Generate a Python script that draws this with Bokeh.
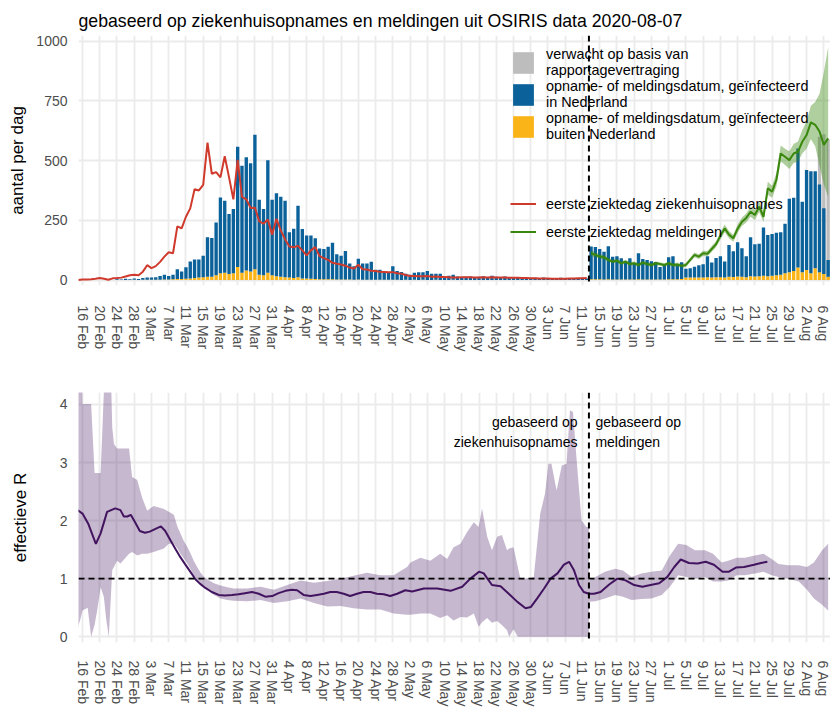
from bokeh.plotting import figure
from bokeh.models import Range1d, FixedTicker, Span, Legend, LegendItem
from bokeh.layouts import column
from bokeh.core.properties import value
from bokeh.embed import file_html
from bokeh.resources import INLINE

FONT = "Liberation Sans"
BLUE = "#0b6199"
YELLOW = "#fbb417"
GREY = "#bdbdbd"
RED = "#cf3a2c"
GREEN = "#39870c"
PURPLE = "#42145f"
GRID = "#ebebeb"

# x = days after 16 Feb 2020
tick_days = list(range(0, 173, 4))
tick_labels = ["16 Feb", "20 Feb", "24 Feb", "28 Feb", "3 Mar", "7 Mar", "11 Mar", "15 Mar",
               "19 Mar", "23 Mar", "27 Mar", "31 Mar", "4 Apr", "8 Apr", "12 Apr", "16 Apr",
               "20 Apr", "24 Apr", "28 Apr", "2 May", "6 May", "10 May", "14 May", "18 May",
               "22 May", "26 May", "30 May", "3 Jun", "7 Jun", "11 Jun", "15 Jun", "19 Jun",
               "23 Jun", "27 Jun", "1 Jul", "5 Jul", "9 Jul", "13 Jul", "17 Jul", "21 Jul",
               "25 Jul", "29 Jul", "2 Aug", "6 Aug"]
switch_day = 117.5  # between 12 Jun and 13 Jun

# ---- hospital admissions (24 Feb .. 12 Jun) ----
hosp_days = list(range(8, 118))
hosp_total = [3, 2, 5, 3, 6, 4, 8, 11, 10, 12,
              17, 22, 17, 22, 45, 36, 53, 78, 86, 86,
              102, 179, 176, 241, 346, 332, 276, 297, 558, 479,
              514, 489, 608, 336, 297, 502, 336, 363, 349, 332,
              200, 215, 311, 214, 186, 186, 175, 132, 130, 139,
              156, 108, 102, 122, 69, 58, 89, 69, 69, 76,
              43, 43, 33, 33, 58, 38, 34, 26, 22, 30,
              32, 32, 38, 26, 26, 26, 12, 18, 22, 15,
              12, 14, 15, 13, 14, 16, 13, 18, 14, 12,
              15, 11, 10, 12, 9, 10, 8, 9, 8, 10,
              7, 8, 7, 9, 6, 7, 8, 6, 7, 6]
hosp_abroad = [0, 0, 0, 0, 1, 0, 1, 1, 1, 1,
               1, 2, 2, 3, 4, 4, 5, 6, 8, 10,
               12, 14, 14, 20, 28, 30, 25, 28, 55, 30,
               40, 36, 45, 22, 20, 30, 20, 16, 14, 12,
               10, 8, 12, 6, 6, 5, 4, 3, 3, 3,
               3, 2, 2, 2, 2, 1, 2, 1, 1, 1,
               1, 1, 1, 1, 1, 1, 0, 1, 0, 1,
               0, 1, 0, 0, 1, 0, 0, 0, 1, 0,
               0, 0, 0, 0, 0, 0, 0, 0, 0, 0,
               0, 0, 0, 0, 0, 0, 0, 0, 0, 0,
               0, 0, 0, 0, 0, 0, 0, 0, 0, 0]

# first day of illness, hospital admissions (15 Feb .. 12 Jun)
red_days = list(range(-1, 118))
red_vals = [0, 2, 2, 3, 5, 8, 5, 1, 7, 8,
            10, 15, 20, 22, 20, 35, 62, 50, 58, 76,
            98, 116, 112, 225, 216, 265, 300, 380, 375, 398,
            575, 445, 452, 430, 518, 430, 338, 503, 348, 338,
            302, 303, 246, 236, 253, 190, 256, 208, 170, 140,
            137, 143, 124, 103, 124, 138, 100, 92, 84, 72,
            68, 65, 60, 52, 48, 64, 45, 44, 39, 38,
            35, 34, 32, 33, 28, 26, 21, 17, 17, 16,
            16, 17, 14, 15, 13, 13, 12, 11, 11, 12,
            12, 12, 11, 11, 12, 11, 12, 11, 10, 10,
            9, 9, 9, 8, 8, 7, 7, 6, 6, 6,
            5, 5, 5, 5, 6, 6, 7, 7, 8]

# ---- notifications (13 Jun .. 7 Aug) ----
notif_days = list(range(118, 174))
notif_total = [140, 138, 130, 118, 141, 97, 99, 91, 77, 91,
               68, 112, 88, 84, 79, 75, 55, 63, 95, 99,
               62, 74, 47, 49, 56, 62, 66, 100, 73, 92,
               100, 78, 147, 120, 158, 133, 100, 179, 150, 152,
               220, 188, 193, 198, 200, 236, 340, 345, 551, 328,
               461, 456, 456, 400, 300, 84]
notif_abroad = [3, 3, 3, 2, 3, 2, 2, 2, 2, 2,
                2, 3, 2, 2, 2, 2, 2, 2, 3, 3,
                3, 4, 10, 10, 10, 11, 10, 12, 10, 12,
                12, 10, 14, 13, 15, 14, 12, 16, 15, 16,
                18, 16, 18, 20, 22, 28, 32, 38, 52, 32,
                42, 28, 49, 32, 25, 14]
expected_days = [171, 172, 173]
expected_top = [600, 610, 590]

green_days = list(range(118, 174))
green_vals = [112, 105, 98, 95, 84, 77, 81, 70, 77, 67,
              70, 63, 73, 67, 63, 70, 67, 63, 70, 63,
              65, 59, 63, 84, 105, 98, 112, 110, 130, 150,
              185, 216, 190, 175, 215, 244, 260, 286, 272, 307,
              265, 384, 370, 420, 530, 516, 502, 530, 537, 579,
              607, 660, 650, 622, 566, 593]
green_lo = [100, 95, 90, 86, 76, 70, 73, 63, 69, 60,
            63, 56, 65, 60, 56, 62, 60, 56, 62, 56,
            57, 52, 55, 75, 95, 88, 101, 99, 118, 137,
            170, 200, 175, 160, 198, 226, 241, 265, 251, 285,
            243, 357, 345, 392, 497, 482, 465, 490, 495, 530,
            550, 590, 560, 480, 400, 350]
green_hi = [125, 116, 108, 104, 93, 85, 89, 78, 85, 74,
            77, 70, 81, 74, 70, 78, 74, 70, 78, 70,
            73, 66, 71, 93, 115, 108, 123, 121, 142, 163,
            200, 232, 205, 190, 232, 262, 279, 307, 293, 329,
            287, 411, 395, 448, 563, 550, 539, 570, 580, 628,
            665, 730, 745, 780, 870, 975]

# ---- effective R ----
rh_days = [-1.5, 0, 1.3, 3.1, 4.2, 5.7, 7.6, 8.8, 9.6, 10.4, 11.2, 12.2, 13.3, 14.5, 15.6,
           17.3, 18.2, 19.2, 20.4, 21.5, 22.7, 23.8, 25, 26.2, 27.3, 28.5, 30, 31.6, 33,
           34.7, 36.2, 37.7, 39.3, 40.9, 42.4, 44, 45.5, 47.1, 48.6, 49.8, 51.3, 52.9, 54.4,
           56, 57.5, 59, 60.6, 62.1, 63.7, 65.2, 66.8, 68.3, 69.9, 71.4, 73, 74.9, 76.5,
           79.2, 82.3, 85.4, 88.1, 90, 92, 93.1, 95, 97, 98.9, 100.9, 102.8, 104, 105.5,
           107.1, 108.6, 110.2, 111.7, 112.9, 114, 115.2, 116.3, 117.5]
rh_vals = [2.20, 2.12, 1.95, 1.60, 1.78, 2.15, 2.21, 2.18, 2.07, 2.07, 2.10, 1.97, 1.82, 1.79,
           1.81, 1.87, 1.90, 1.82, 1.66, 1.52, 1.37, 1.25, 1.12, 0.99, 0.91, 0.84, 0.77, 0.72,
           0.71, 0.72, 0.73, 0.75, 0.77, 0.74, 0.69, 0.70, 0.75, 0.79, 0.81, 0.80, 0.72, 0.70,
           0.72, 0.74, 0.77, 0.77, 0.74, 0.70, 0.74, 0.77, 0.77, 0.74, 0.73, 0.70, 0.74, 0.80,
           0.78, 0.83, 0.83, 0.79, 0.86, 1.00, 1.12, 1.09, 0.89, 0.87, 0.74, 0.60, 0.49, 0.51,
           0.66, 0.83, 1.00, 1.09, 1.24, 1.29, 1.15, 0.89, 0.77, 0.74]
rn_days = [117.5, 118.7, 120.2, 122.2, 124.1, 126, 128, 129.9, 131.8, 133.8, 135.7, 137.3,
           138.8, 140.7, 142.7, 144.6, 146.5, 148.5, 150, 151.6, 153.5, 155.8, 157.4, 158.9]
rn_vals = [0.74, 0.74, 0.77, 0.90, 1.00, 0.97, 0.89, 0.86, 0.89, 0.92, 1.03, 1.20,
           1.33, 1.27, 1.26, 1.29, 1.24, 1.12, 1.12, 1.19, 1.20, 1.24, 1.27, 1.29]

bh_days = [-1.7, -0.5, 0.0, 1.2, 2.0, 2.8, 3.4, 4.2, 4.95, 5.5, 6.1, 6.9, 7.3, 8.0, 8.8, 10.8,
           11.5, 12.7, 13.8, 15.0, 16.5, 18.9, 20.0, 21.2, 22.0, 22.7, 23.5, 24.3, 25.1, 25.8,
           26.6, 27.4, 28.2, 28.9, 30.5, 32.0, 33.6, 35.1, 38.2, 41.3, 44.4, 47.5, 50.6, 53.7,
           56.8, 59.9, 62.9, 66.0, 69.1, 72.2, 75.3, 76.1, 78.4, 80.7, 83.0, 84.6, 86.1, 87.7,
           89.2, 90.8, 91.9, 92.7, 93.9, 95.0, 96.2, 97.3, 98.5, 99.0, 100.0, 101.0, 101.6,
           102.7, 104.7, 106.2, 107.3, 108.1, 108.8, 110.0, 111.2, 112.3, 113.1, 113.8, 114.6,
           115.8, 116.9, 117.5]
bh_lo = [0.00, 0.30, 0.45, 0.50, 0.00, 0.20, 0.45, 0.85, 0.69, 0.30, 0.00, 1.15, 1.20, 1.31,
         1.26, 1.43, 1.46, 1.40, 1.43, 1.43, 1.46, 1.52, 1.60, 1.60, 1.52, 1.43, 1.35, 1.26,
         1.16, 1.06, 0.99, 0.92, 0.86, 0.81, 0.72, 0.66, 0.63, 0.62, 0.61, 0.63, 0.58, 0.61,
         0.66, 0.58, 0.52, 0.53, 0.49, 0.47, 0.47, 0.40, 0.38, 0.38, 0.40, 0.40, 0.32, 0.37,
         0.28, 0.34, 0.33, 0.40, 0.17, 0.25, 0.32, 0.24, 0.27, 0.20, 0.11, 0.00, 0.13, 0.00,
         0.00, 0.00, 0.00, 0.00, 0.00, 0.00, 0.00, 0.00, 0.00, 0.00, 0.00, 0.00, 0.00, 0.00,
         0.00, 0.00]
bh_hi = [6.0, 6.0, 4.01, 4.01, 4.01, 2.82, 2.82, 2.82, 4.2, 6.0, 6.0, 3.6, 3.32, 3.24, 3.24,
         3.24, 2.75, 2.70, 2.40, 2.17, 2.25, 2.20, 2.15, 2.10, 1.90, 1.78, 1.65, 1.55, 1.43,
         1.31, 1.20, 1.10, 1.03, 0.99, 0.92, 0.88, 0.85, 0.83, 0.83, 0.86, 0.81, 0.89, 0.97,
         0.93, 0.96, 1.00, 1.05, 1.10, 1.06, 1.06, 1.20, 1.28, 1.36, 1.31, 1.43, 1.34, 1.54,
         1.60, 1.80, 1.97, 1.89, 2.21, 1.72, 1.49, 1.72, 1.75, 1.49, 1.52, 1.54, 1.20, 1.00,
         1.00, 1.03, 2.12, 2.46, 2.98, 2.98, 2.52, 2.95, 2.98, 3.90, 3.87, 3.09, 2.00, 1.89,
         1.89]
bn_days = [117.5, 119.0, 121.2, 123.6, 125.4, 127.4, 129.7, 132.0, 134.4, 136.3, 138.2, 140.1,
           142.1, 144.4, 146.3, 148.3, 149.8, 151.8, 153.7, 156.0, 158.0, 159.9, 161.5, 163.8,
           166.2, 168.1, 169.7, 171.6, 173.0]
bn_lo = [0.60, 0.61, 0.66, 0.72, 0.69, 0.63, 0.65, 0.66, 0.72, 0.86, 1.06, 1.03, 1.00, 1.03,
         0.95, 0.95, 0.97, 1.06, 1.06, 1.09, 1.12, 1.06, 1.03, 1.00, 0.95, 0.81, 0.66, 0.55,
         0.45]
bn_hi = [0.97, 1.03, 1.12, 1.17, 1.14, 1.03, 1.09, 1.12, 1.14, 1.40, 1.60, 1.58, 1.49, 1.49,
         1.43, 1.28, 1.31, 1.36, 1.36, 1.40, 1.43, 1.34, 1.25, 1.23, 1.23, 1.20, 1.28, 1.49,
         1.60]

ann_y = [3.69, 3.35]
ann_left = ["gebaseerd op", "ziekenhuisopnames"]
ann_right = ["gebaseerd op", "meldingen"]

X_RANGE = (-0.93, 173.55)
label_map = {d: t for d, t in zip(tick_days, tick_labels)}


def style(p, yticks, ylabel, label_standoff, xlab_standoff):
    p.outline_line_color = None
    p.background_fill_color = "white"
    for ax in (p.xaxis[0], p.yaxis[0]):
        ax.axis_line_color = None
        ax.major_tick_line_color = None
        ax.minor_tick_line_color = None
        ax.major_label_text_font = FONT
        ax.major_label_text_font_size = "14px"
        ax.major_label_text_color = "#4d4d4d"
    p.xaxis.ticker = FixedTicker(ticks=tick_days)
    p.xaxis.major_label_overrides = label_map
    p.xaxis.major_label_orientation = "vertical"
    p.xaxis.major_label_standoff = xlab_standoff
    p.yaxis.ticker = FixedTicker(ticks=yticks)
    p.yaxis.major_label_standoff = 5
    p.yaxis.axis_label = ylabel
    p.yaxis.axis_label_text_font = FONT
    p.yaxis.axis_label_text_font_size = "17px"
    p.yaxis.axis_label_text_font_style = "normal"
    p.yaxis.axis_label_text_color = "#000000"
    p.yaxis.axis_label_standoff = label_standoff
    p.xgrid.ticker = FixedTicker(ticks=tick_days)
    p.ygrid.ticker = FixedTicker(ticks=yticks)
    for g in (p.xgrid[0], p.ygrid[0]):
        g.grid_line_color = GRID
        g.grid_line_width = 1.8


# ---------------- top panel ----------------
p1 = figure(width=830, height=365, x_range=Range1d(*X_RANGE), y_range=Range1d(-23, 1024),
            output_backend="svg", toolbar_location=None,
            min_border_left=78, min_border_right=0, min_border_top=35, min_border_bottom=80)
p1.title.text = "gebaseerd op ziekenhuisopnames en meldingen uit OSIRIS data 2020-08-07"
p1.title.text_font = FONT
p1.title.text_font_size = "17.7px"
p1.title.text_font_style = "normal"
p1.title.text_color = "#000000"
p1.title.standoff = 9
style(p1, [0, 250, 500, 750, 1000], "aantal per dag", 6, 14)

W = 0.78
r_grey = p1.vbar(x=expected_days, width=W, bottom=0, top=expected_top, fill_color=GREY, line_color=None)
r_yel = p1.vbar(x=hosp_days, width=W, bottom=0, top=hosp_abroad, fill_color=YELLOW, line_color=None)
r_blue = p1.vbar(x=hosp_days, width=W, bottom=hosp_abroad, top=hosp_total, fill_color=BLUE, line_color=None)
p1.vbar(x=notif_days, width=W, bottom=0, top=notif_abroad, fill_color=YELLOW, line_color=None)
p1.vbar(x=notif_days, width=W, bottom=notif_abroad, top=notif_total, fill_color=BLUE, line_color=None)
r_red = p1.line(red_days, red_vals, line_color=RED, line_width=2)
p1.varea(x=green_days, y1=green_lo, y2=green_hi, fill_color=GREEN, fill_alpha=0.4)
r_green = p1.line(green_days, green_vals, line_color=GREEN, line_width=2)

leg1 = Legend(items=[
    LegendItem(label="verwacht op basis van\nrapportagevertraging", renderers=[r_grey]),
    LegendItem(label="opname- of meldingsdatum, geïnfecteerd\nin Nederland", renderers=[r_blue]),
    LegendItem(label="opname- of meldingsdatum, geïnfecteerd\nbuiten Nederland", renderers=[r_yel]),
], location=(432, 143), spacing=-3)
leg2 = Legend(items=[
    LegendItem(label="eerste ziektedag ziekenhuisopnames", renderers=[r_red]),
    LegendItem(label="eerste ziektedag meldingen", renderers=[r_green]),
], location=(432, 40), spacing=1)
for lg in (leg1, leg2):
    lg.glyph_width = 26
    lg.glyph_height = 27
    lg.padding = 0
    lg.margin = 0
    lg.label_standoff = 10
    lg.label_text_font = FONT
    lg.label_text_font_size = "14.4px"
    lg.label_text_line_height = 0.92
    lg.label_text_color = "#000000"
    lg.border_line_color = None
    lg.background_fill_alpha = 0
    p1.add_layout(lg, "center")
p1.add_layout(Span(location=switch_day, dimension="height", line_color="black",
                   line_dash="6 4", line_width=2))

# ---------------- bottom panel ----------------
p2 = figure(width=830, height=351, x_range=Range1d(*X_RANGE), y_range=Range1d(-0.1, 4.206),
            output_backend="svg", toolbar_location=None,
            min_border_left=78, min_border_right=0, min_border_top=27, min_border_bottom=74)
style(p2, [0, 1, 2, 3, 4], "effectieve R", 27, 12)

p2.varea(x=bh_days, y1=bh_lo, y2=bh_hi, fill_color=PURPLE, fill_alpha=0.3)
p2.varea(x=bn_days, y1=bn_lo, y2=bn_hi, fill_color=PURPLE, fill_alpha=0.3)
p2.line(rh_days, rh_vals, line_color=PURPLE, line_width=2)
p2.line(rn_days, rn_vals, line_color=PURPLE, line_width=2)
p2.add_layout(Span(location=1, dimension="width", line_color="black", line_dash="6 4", line_width=1.6))
p2.add_layout(Span(location=switch_day, dimension="height", line_color="black",
                   line_dash="6 4", line_width=2))
p2.text(x=[switch_day - 2.65] * 2, y=ann_y, text=ann_left, text_align="right",
        text_baseline="middle", text_font=value(FONT), text_font_size="14px", text_color="#000000")
p2.text(x=[switch_day + 1.5] * 2, y=ann_y, text=ann_right, text_align="left",
        text_baseline="middle", text_font=value(FONT), text_font_size="14px", text_color="#000000")

layout = column(p1, p2)
open("out.html", "w").write(file_html(layout, INLINE))
